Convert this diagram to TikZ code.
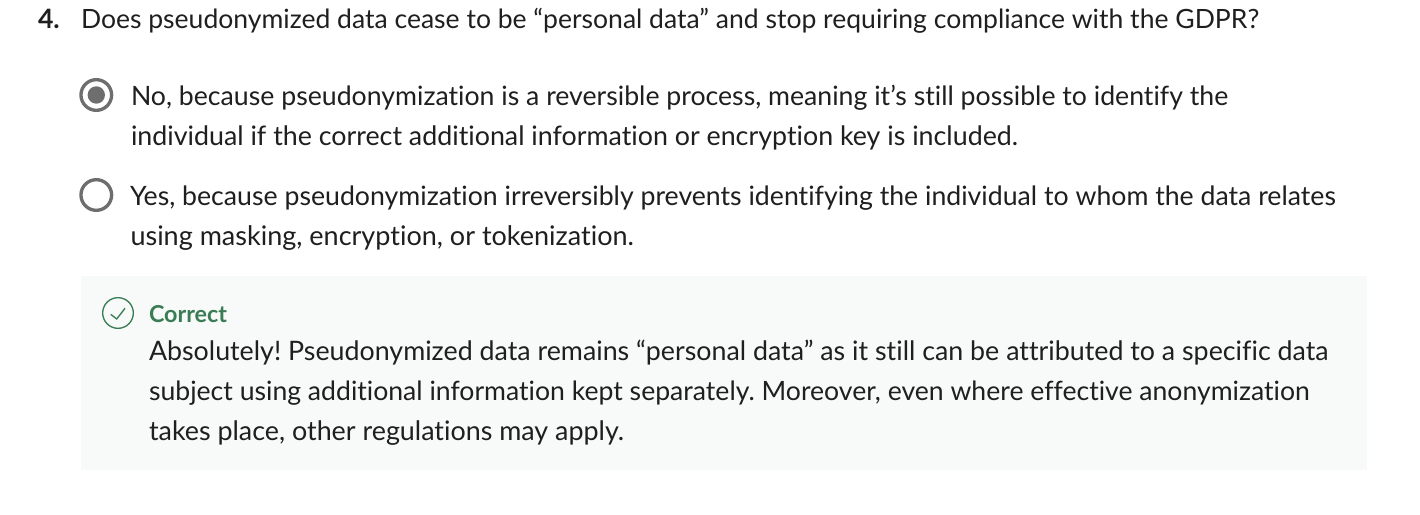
\documentclass[tikz,border=0pt]{standalone}
\usepackage{fontspec}
\setmainfont[Ligatures=NoCommon]{Lato}
\definecolor{ink}{HTML}{1F1F1F}
\definecolor{ringgrey}{HTML}{6E6E6E}
\definecolor{okgreen}{HTML}{3A7D55}
\definecolor{okbg}{HTML}{F8FAF9}
\newcommand{\sz}[1]{\fontsize{#1}{24}\selectfont\frenchspacing}
\tikzset{
 txt/.style={anchor=base west,inner sep=0pt,outer sep=0pt,font=\sz{20},text=ink},
 ring/.style={circle,draw=ringgrey,line width=2.5pt,minimum size=23pt,inner sep=0pt},
}
\begin{document}
\begin{tikzpicture}[x=0.75pt,y=-0.75pt]
\useasboundingbox (0,0) rectangle (1420,514);
\fill[white] (0,0) rectangle (1420,514);
\fill[okbg] (81,276) rectangle (1367,470);
\node[txt,font=\sz{20}\bfseries] (num) at (38,28) {4.};
\node[txt,font=\sz{19.9}] (q) at (81,28) {Does pseudonymized data cease to be “personal data” and stop requiring compliance with the GDPR?};
\node[ring] (r1) at (96.3,95) {};
\fill[ringgrey] (r1.center) circle (8.7);
\node[ring] (r2) at (96.3,195) {};
\node[txt] (a1) at (131,105) {No, because pseudonymization is a reversible process, meaning it’s still possible to identify the};
\node[txt,font=\sz{20.1}] (a2) at (131,145) {individual if the correct additional information or encryption key is included.};
\node[txt] (b1) at (130,205) {Yes, because pseudonymization irreversibly prevents identifying the individual to whom the data relates};
\node[txt,font=\sz{20.25}] (b2) at (130.5,245) {using masking, encryption, or tokenization.};
\node[circle,draw=okgreen,line width=1pt,minimum size=23pt,inner sep=0pt] (c) at (118,313) {};
\draw[okgreen,line width=1pt] (110.7,314.3) -- (116.7,319) -- (125,308.3);
\node[txt,text=okgreen,font=\sz{17.5}\bfseries] (h) at (149,322) {Correct};
\node[txt,font=\sz{20.1}] (f1) at (149,360) {Absolutely! Pseudonymized data remains “personal data” as it still can be attributed to a specific data};
\node[txt,font=\sz{19.95}] (f2) at (149,400) {subject using additional information kept separately. Moreover, even where effective anonymization};
\node[txt,font=\sz{20.15}] (f3) at (149,440) {takes place, other regulations may apply.};
\end{tikzpicture}
\end{document}
